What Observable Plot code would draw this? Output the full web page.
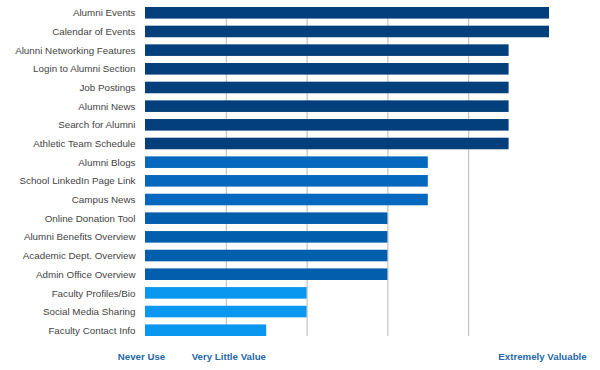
<!DOCTYPE html>
<html>
<head>
<meta charset="utf-8">
<script src="https://cdn.jsdelivr.net/npm/d3@7"></script>
<script src="https://cdn.jsdelivr.net/npm/@observablehq/plot@0.6"></script>
<style>
  html, body { margin: 0; padding: 0; background: #fff; }
  #chart svg { display: block; }
</style>
</head>
<body>
<div id="chart"></div>
<script>
const categories = [
  "Alumni Events", "Calendar of Events", "Alunni Networking Features",
  "Login to Alumni Section", "Job Postings", "Alumni News", "Search for Alumni",
  "Athletic Team Schedule", "Alumni Blogs", "School LinkedIn Page Link",
  "Campus News", "Online Donation Tool", "Alumni Benefits Overview",
  "Academic Dept. Overview", "Admin Office Overview", "Faculty Profiles/Bio",
  "Social Media Sharing", "Faculty Contact Info"
];
const values = [5, 5, 4.5, 4.5, 4.5, 4.5, 4.5, 4.5, 3.5, 3.5, 3.5, 3, 3, 3, 3, 2, 2, 1.5];
const tickValues = [0, 1, 5];
const tickLabels = ["Never Use", "Very Little Value", "Extremely Valuable"];

const data = categories.map((c, i) => ({category: c, value: values[i]}));
const colorFor = v => v >= 4.5 ? "#033f7a" : v >= 3.5 ? "#0567bd" : v >= 3 ? "#035eae" : "#0a97f0";
const labelFor = d => tickLabels[tickValues.indexOf(d)];
const bottomAxis = (t, dx) => Plot.axisX({
  ticks: [t], tickFormat: labelFor, tickSize: 0, tickPadding: 17, dx,
  fontSize: 9.7, fontWeight: "bold", color: "#2468a8", label: null
});

const chart = Plot.plot({
  width: 600,
  height: 370,
  marginLeft: 145,
  marginRight: 51,
  marginTop: 7,
  marginBottom: 34,
  style: {fontFamily: "'Liberation Sans', Arial, Helvetica, sans-serif", background: "#fff"},
  x: {domain: [0, 5]},
  y: {domain: categories, paddingInner: 0.38, paddingOuter: 0, round: false},
  marks: [
    Plot.ruleX([1, 2, 3, 4], {stroke: "#b8b8b8", strokeWidth: 1, strokeOpacity: 1}),
    Plot.barX(data, {y: "category", x: "value", fill: d => colorFor(d.value)}),
    Plot.axisY({tickSize: 0, tickPadding: 10, fontSize: 9.8, color: "#444", label: null}),
    bottomAxis(tickValues[0], -4),
    bottomAxis(tickValues[1], 2.5),
    bottomAxis(tickValues[2], -7)
  ]
});
document.getElementById("chart").appendChild(chart);
</script>
</body>
</html>
